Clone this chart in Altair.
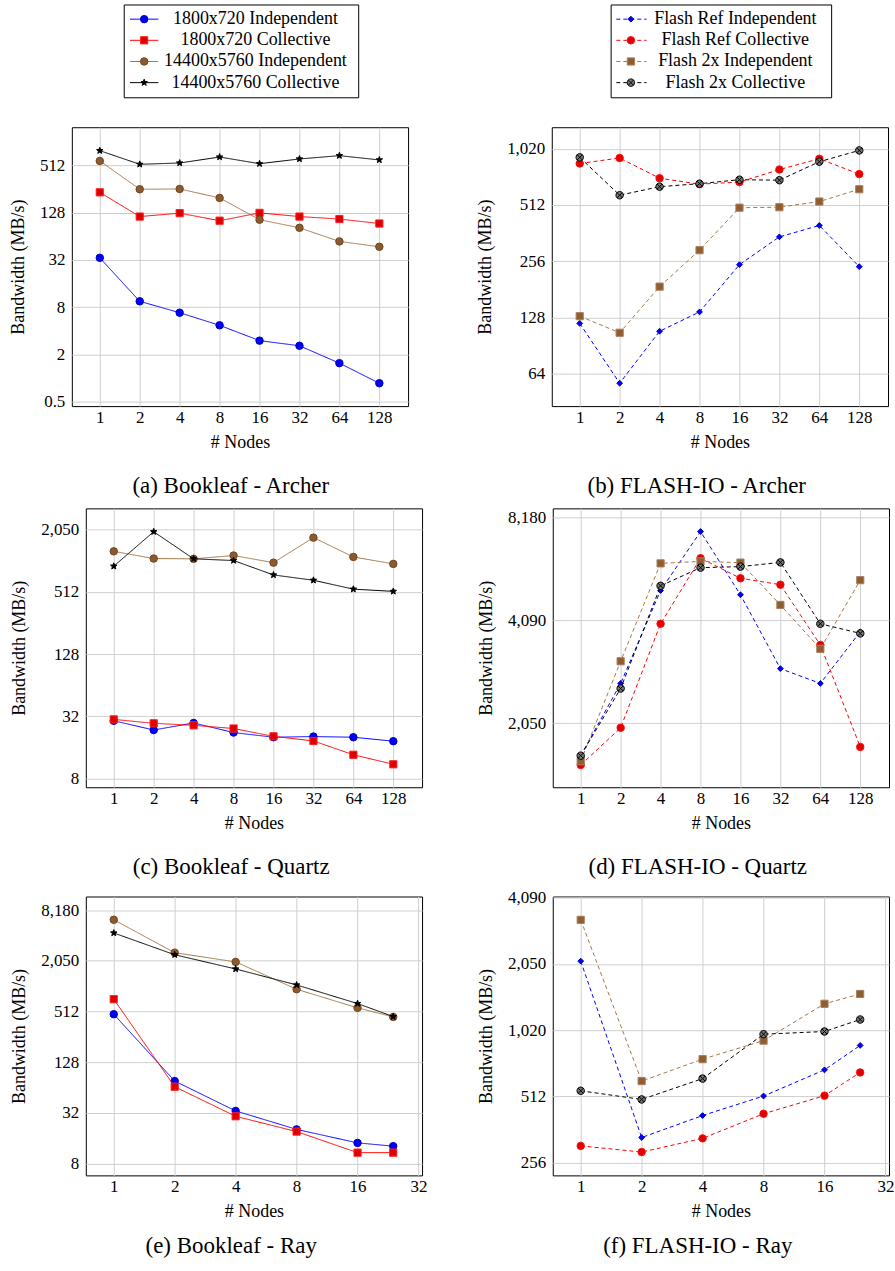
import math
import altair as alt
import pandas as pd

FONT = "Liberation Serif"
GRID = "#cfcfcf"

# ---------------- series names ----------------
book_series = ["1800x720 Independent", "1800x720 Collective",
               "14400x5760 Independent", "14400x5760 Collective"]
flash_series = ["Flash Ref Independent", "Flash Ref Collective",
                "Flash 2x Independent", "Flash 2x Collective"]

nodes_8 = [1, 2, 4, 8, 16, 32, 64, 128]
nodes_6 = [1, 2, 4, 8, 16, 24]

# ---------------- (a) Bookleaf - Archer ----------------
a_small_ind = [34, 9.5, 6.8, 4.7, 3.0, 2.58, 1.55, 0.86]
a_small_col = [232, 114, 126, 101, 127, 114, 106, 93]
a_large_ind = [582, 254, 256, 197, 104, 82, 55, 47]
a_large_col = [787, 528, 548, 653, 537, 617, 680, 600]
# ---------------- (b) FLASH-IO - Archer ----------------
b_ref_ind = [119, 57, 108, 137, 245, 345, 397, 239]
b_ref_col = [851, 911, 710, 660, 677, 790, 902, 747]
b_2x_ind = [130, 106, 187, 293, 494, 497, 533, 620]
b_2x_col = [918, 576, 640, 664, 697, 693, 870, 1000]
# ---------------- (c) Bookleaf - Quartz ----------------
c_small_ind = [29, 23.6, 27.6, 22.3, 20.1, 20.4, 20.1, 18.4]
c_small_col = [29.9, 27.4, 26.2, 24.4, 20.5, 18.5, 13.6, 11.0]
c_large_ind = [1260, 1073, 1066, 1148, 980, 1710, 1112, 953]
c_large_col = [905, 1950, 1066, 1027, 745, 662, 543, 517]
# ---------------- (d) FLASH-IO - Quartz ----------------
d_ref_ind = [1650, 2680, 5000, 7430, 4860, 2960, 2680, 3790]
d_ref_col = [1550, 1990, 4000, 6210, 5430, 5200, 3470, 1750]
d_2x_ind = [1590, 3110, 6000, 6080, 6030, 4540, 3380, 5360]
d_2x_col = [1650, 2590, 5160, 5830, 5870, 6040, 4000, 3750]
# ---------------- (e) Bookleaf - Ray ----------------
e_small_ind = [476, 76.5, 33.8, 20.4, 14.1, 12.9]
e_small_col = [718, 65.5, 29.2, 19.2, 10.8, 10.8]
e_large_ind = [6300, 2560, 1990, 942, 566, 442]
e_large_col = [4390, 2420, 1640, 1060, 637, 446]
# ---------------- (f) FLASH-IO - Ray ----------------
f_ref_ind = [2110, 333, 419, 514, 676, 873]
f_ref_col = [305, 286, 330, 427, 516, 658]
f_2x_ind = [3250, 601, 756, 918, 1350, 1496]
f_2x_col = [543, 496, 617, 982, 1010, 1145]

# ---------------- tick labels ----------------
y_ticks_a = [0.5, 2, 8, 32, 128, 512]
y_ticks_b = [64, 128, 256, 512, 1020]
y_ticks_c = [8, 32, 128, 512, 2050]
y_ticks_d = [2050, 4090, 8180]
y_ticks_e = [8, 32, 128, 512, 2050, 8180]
y_ticks_f = [256, 512, 1020, 2050, 4090]
x_ticks_8 = [1, 2, 4, 8, 16, 32, 64, 128]
x_ticks_6 = [1, 2, 4, 8, 16, 32]

captions = ["(a) Bookleaf - Archer", "(b) FLASH-IO - Archer",
            "(c) Bookleaf - Quartz", "(d) FLASH-IO - Quartz",
            "(e) Bookleaf - Ray", "(f) FLASH-IO - Ray"]

# ---------------- axis ranges (log2 enlarged limits) ----------------
x_dom_8 = [2 ** -0.7, 2 ** 7.72]
x_dom_6 = [2 ** -0.4585, 2 ** 5.0585]
y_dom_a = [0.44, 1565]
y_dom_b = [43, 1330]
y_dom_c = [6.6, 3280]
y_dom_d = [1335, 8680]
y_dom_e = [5.8, 11900]
y_dom_f = [224, 4150]

# ---------------- marker styles ----------------
star_pts = []
for k in range(10):
    ang = math.radians(-90 + 36 * k)
    r = 1.0 if k % 2 == 0 else 0.42
    star_pts.append(f"{r * math.cos(ang):.3f},{r * math.sin(ang):.3f}")
STAR = "M" + "L".join(star_pts) + "Z"
OTIMES = ("M1,0A1,1 0 1,1 -1,0A1,1 0 1,1 1,0Z"
          "M-0.72,-0.72L0.72,0.72M-0.72,0.72L0.72,-0.72")

style = {
    "1800x720 Independent": dict(line="#0000ff", dash=[1, 0], shape="circle", size=56, fill="#0000f0", stroke="#0000c8"),
    "1800x720 Collective": dict(line="#ff0000", dash=[1, 0], shape="square", size=52, fill="#dd0000", stroke="#ff2020"),
    "14400x5760 Independent": dict(line="#a57646", dash=[1, 0], shape="circle", size=56, fill="#8c5b2d", stroke="#6e4521"),
    "14400x5760 Collective": dict(line="#000000", dash=[1, 0], shape=STAR, size=46, fill="#000000", stroke="#000000"),
    "Flash Ref Independent": dict(line="#0000ff", dash=[4, 3], shape="diamond", size=34, fill="#0000f0", stroke="#0000c8"),
    "Flash Ref Collective": dict(line="#ff0000", dash=[4, 3], shape="circle", size=56, fill="#e00000", stroke="#ff1010"),
    "Flash 2x Independent": dict(line="#a57646", dash=[4, 3], shape="square", size=52, fill="#8f5e30", stroke="#a88060"),
    "Flash 2x Collective": dict(line="#000000", dash=[4, 3], shape=OTIMES, size=56, fill="#777777", stroke="#000000"),
}

W = 337
H = 279.5
TICK_FS = 17
TEXT_FS = 18


def panel(names, xs, ys, x_dom, x_ticks, y_dom, y_ticks, caption, title_x, cap_dx, cap_off):
    rows = []
    for name, vals in zip(names, ys):
        for x, v in zip(xs, vals):
            rows.append({"series": name, "nodes": x, "bw": v})
    df = pd.DataFrame(rows)
    x = alt.X("nodes:Q",
              scale=alt.Scale(type="log", base=2, domain=x_dom, nice=False),
              axis=alt.Axis(values=x_ticks, format="d", title="# Nodes",
                            grid=True, gridColor=GRID, gridWidth=1, domain=False,
                            ticks=False, tickSize=0, labelPadding=3,
                            labelFont=FONT, labelFontSize=TICK_FS, labelColor="black",
                            labelFlush=False, labelOverlap=False,
                            titleFont=FONT, titleFontSize=TEXT_FS, titleFontWeight="normal",
                            titleColor="black", titleY=36, titleBaseline="middle"))
    y = alt.Y("bw:Q",
              scale=alt.Scale(type="log", base=2, domain=y_dom, nice=False),
              axis=alt.Axis(values=y_ticks, format=",", title="Bandwidth (MB/s)",
                            grid=True, gridColor=GRID, gridWidth=1, domain=False,
                            ticks=False, tickSize=0, labelPadding=7,
                            labelFont=FONT, labelFontSize=TICK_FS, labelColor="black",
                            labelFlush=False, labelOverlap=False,
                            titleFont=FONT, titleFontSize=TEXT_FS, titleFontWeight="normal",
                            titleColor="black", titleX=title_x, titleY=H / 2,
                            titleAngle=270, titleAlign="center", titleBaseline="middle"))
    base = alt.Chart(df).encode(x=x, y=y)
    layers = []
    for name in names:
        s = style[name]
        sub = base.transform_filter(alt.datum.series == name)
        layers.append(sub.mark_line(color=s["line"], strokeDash=s["dash"], strokeWidth=1))
        layers.append(sub.mark_point(shape=s["shape"], size=s["size"], filled=True,
                                     fill=s["fill"], stroke=s["stroke"], strokeWidth=1,
                                     opacity=1))
    return alt.layer(*layers).properties(
        width=W, height=H,
        title=alt.TitleParams(caption, orient="bottom", anchor="middle", frame="group",
                              dx=cap_dx, offset=cap_off, font=FONT, fontSize=23,
                              fontWeight="normal", color="black"))


def legend_box(names, width, lx0, lx1, mx, tx):
    df = pd.DataFrame({"series": names, "idx": list(range(len(names)))})
    y = alt.Y("idx:Q", scale=alt.Scale(domain=[-0.693, 3.693], reverse=True, nice=False, zero=False),
              axis=None)
    layers = []
    for name in names:
        s = style[name]
        sub = alt.Chart(df).transform_filter(alt.datum.series == name)
        layers.append(sub.mark_rule(color=s["line"], strokeDash=s["dash"], strokeWidth=1)
                      .encode(y=y, x=alt.value(lx0), x2=alt.value(lx1)))
        layers.append(sub.mark_point(shape=s["shape"], size=s["size"], filled=True,
                                     fill=s["fill"], stroke=s["stroke"], strokeWidth=1, opacity=1)
                      .encode(y=y, x=alt.value(mx)))
    layers.append(alt.Chart(df).mark_text(font=FONT, fontSize=TEXT_FS, align="center",
                                          baseline="middle", color="black")
                  .encode(y=y, x=alt.value(tx), text="series:N"))
    return alt.layer(*layers).properties(width=width, height=93)


def spacer(w, h):
    return alt.Chart(pd.DataFrame({"s": [0]})).mark_point(opacity=0, size=0, strokeWidth=0).encode(
        x=alt.value(0), y=alt.value(0)
    ).properties(width=w, height=h,
                 view=alt.ViewBackground(stroke="transparent", strokeWidth=0))


pa = panel(book_series, nodes_8, [a_small_ind, a_small_col, a_large_ind, a_large_col],
           x_dom_8, x_ticks_8, y_dom_a, y_ticks_a, captions[0], -53.2, -9.2, 24)
pb = panel(flash_series, nodes_8, [b_ref_ind, b_ref_col, b_2x_ind, b_2x_col],
           x_dom_8, x_ticks_8, y_dom_b, y_ticks_b, captions[1], -66.2, -23.2, 24)
pc = panel(book_series, nodes_8, [c_small_ind, c_small_col, c_large_ind, c_large_col],
           x_dom_8, x_ticks_8, y_dom_c, y_ticks_c, captions[2], -66.8, -22.8, 24)
pd_ = panel(flash_series, nodes_8, [d_ref_ind, d_ref_col, d_2x_ind, d_2x_col],
            x_dom_8, x_ticks_8, y_dom_d, y_ticks_d, captions[3], -66.2, -23.2, 24)
pe = panel(book_series, nodes_6, [e_small_ind, e_small_col, e_large_ind, e_large_col],
           x_dom_6, x_ticks_6, y_dom_e, y_ticks_e, captions[4], -66.8, -22.8, 15)
pf = panel(flash_series, nodes_6, [f_ref_ind, f_ref_col, f_2x_ind, f_2x_col],
           x_dom_6, x_ticks_6, y_dom_f, y_ticks_f, captions[5], -66.2, -23.2, 15)

leg1 = legend_box(book_series, 235, 6.3, 34.7, 20.5, 132)
leg2 = legend_box(flash_series, 221, 5.7, 36, 20.3, 125)

# every row shares the same origin: the left plot edge of panel (a)
legend_row = alt.hconcat(spacer(51.3, 1), leg1, spacer(253, 1), leg2, spacing=0, bounds="flush")
row1 = alt.hconcat(pa, spacer(144, 1), pb, spacing=0, bounds="flush")
row2 = alt.hconcat(spacer(13.6, 1), pc, spacer(130.4, 1), pd_, spacing=0, bounds="flush")
row3 = alt.hconcat(spacer(13.6, 1), pe, spacer(130.4, 1), pf, spacing=0, bounds="flush")

chart = alt.vconcat(
    legend_row, spacer(1, 27.7), row1, spacer(1, 9), row2, spacer(1, 7.1), row3,
    spacing=0,
).properties(
    padding={"left": 9, "top": 2.1, "right": 0, "bottom": 0},
    background="white",
).configure(font=FONT).configure_axis(
    labelFont=FONT, titleFont=FONT, labelColor="black", titleColor="black"
).configure_text(font=FONT).configure_title(font=FONT).configure_view(
    stroke="#000000", strokeWidth=1
)

chart.save("out.html", embed_options={"renderer": "svg", "actions": False})
